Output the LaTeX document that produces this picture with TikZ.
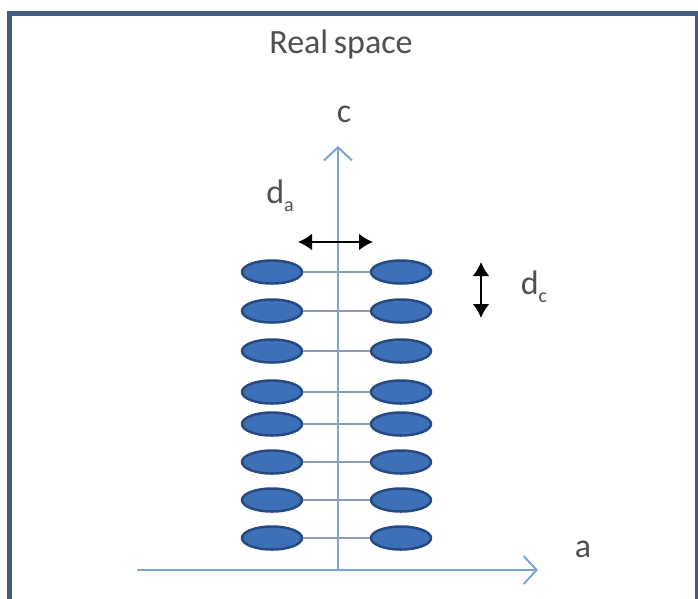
\documentclass[tikz,border=0pt]{standalone}
\usepackage{fontspec}
\setmainfont{Carlito}
\usetikzlibrary{shapes.geometric,arrows.meta}
\definecolor{framec}{RGB}{70,92,126}
\definecolor{axisc}{RGB}{125,165,210}
\definecolor{molfill}{RGB}{62,112,184}
\definecolor{moldraw}{RGB}{38,74,130}
\definecolor{linkc}{RGB}{140,155,175}
\definecolor{textc}{RGB}{80,80,80}
\tikzset{
  mol/.style={ellipse, fill=molfill, draw=moldraw, line width=2.5pt, minimum width=60pt, minimum height=23pt, inner sep=0pt},
  link/.style={draw=linkc, line width=1.5pt},
  axisline/.style={draw=axisc, line width=2pt, -{Straight Barb[length=13pt,width=28pt,line width=2pt]}},
  dimarrow/.style={draw=black, line width=2.5pt, {Latex[length=14pt,width=17pt]}-{Latex[length=14pt,width=17pt]}},
  lbl/.style={text=textc, font=\fontsize{34}{40}\selectfont, inner sep=0pt},
}
\newcommand{\subsc}[1]{\raisebox{-8pt}{\fontsize{20}{22}\selectfont #1}}
\begin{document}
\begin{tikzpicture}[x=1pt,y=-1pt]
\useasboundingbox (0,0) rectangle (698,598);
\clip (0,0) rectangle (698,598);
\fill[white] (0,0) rectangle (698,598);
\draw[framec, line width=5pt] (9,13) rectangle (697,620);
\node[lbl] (title) at (341,44) {Real\,space};
% molecules
\foreach \i/\y in {1/272,2/311,3/351,4/392,5/424,6/462,7/500,8/538} {
  \node[mol] (L\i) at (272,\y) {};
  \node[mol] (R\i) at (401,\y) {};
  \draw[link] (L\i.east) -- (R\i.west);
}
% axes
\coordinate (o) at (338,570);
\coordinate (ctop) at (338,146);
\coordinate (aleft) at (137,570);
\coordinate (aright) at (538,570);
\draw[axisline] (o) -- (ctop);
\draw[axisline] (aleft) -- (aright);
\node[lbl] (clbl) at (344,114) {c};
\node[lbl] (albl) at (583,549) {a};
% dimension arrows
\coordinate (daL) at (298,242);
\coordinate (daR) at (373,242);
\draw[dimarrow] (daL) -- (daR);
\node[lbl] (dalbl) at (280,196) {d\subsc{a}};
\coordinate (dcT) at (481,262);
\coordinate (dcB) at (481,318);
\draw[dimarrow] (dcT) -- (dcB);
\node[lbl] (dclbl) at (534,287) {d\subsc{c}};
\end{tikzpicture}
\end{document}
